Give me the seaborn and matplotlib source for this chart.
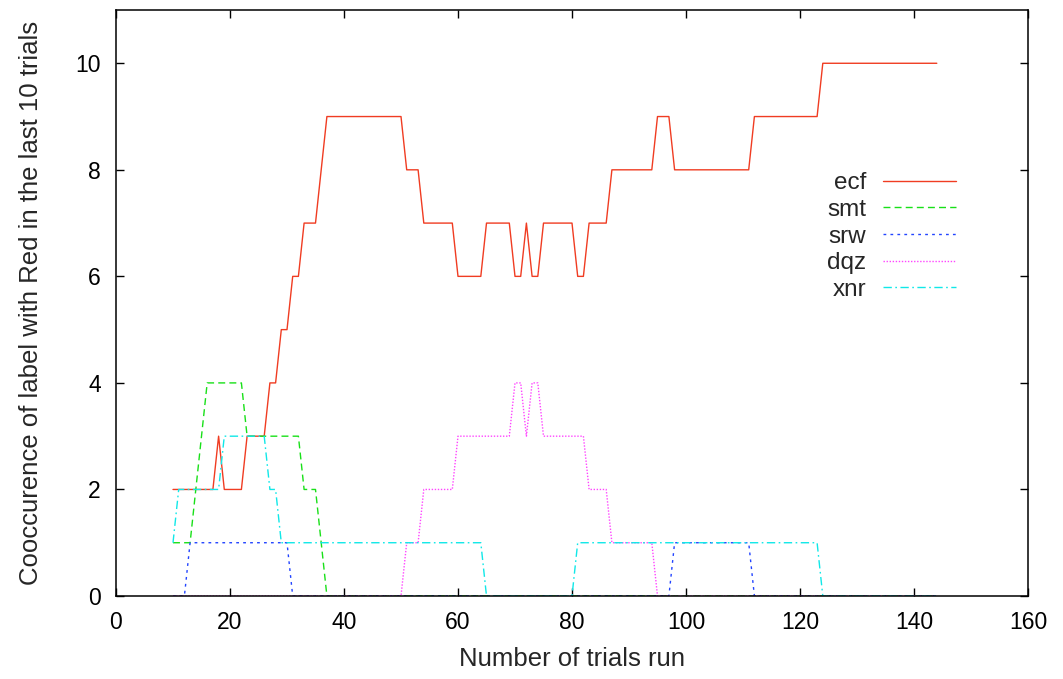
import numpy as np
import pandas as pd
import matplotlib
matplotlib.use("Agg")
import matplotlib.pyplot as plt
import seaborn as sns

# ---- data (trial number 10..144) ----
trials = list(range(10, 145))

ecf = [2, 2, 2, 2, 2, 2, 2, 2, 3, 2,      # 10-19
       2, 2, 2, 3, 3, 3, 3, 4, 4, 5,      # 20-29
       5, 6, 6, 7, 7, 7, 8, 9, 9, 9,      # 30-39
       9, 9, 9, 9, 9, 9, 9, 9, 9, 9,      # 40-49
       9, 8, 8, 8, 7, 7, 7, 7, 7, 7,      # 50-59
       6, 6, 6, 6, 6, 7, 7, 7, 7, 7,      # 60-69
       6, 6, 7, 6, 6, 7, 7, 7, 7, 7,      # 70-79
       7, 6, 6, 7, 7, 7, 7, 8, 8, 8,      # 80-89
       8, 8, 8, 8, 8, 9, 9, 9, 8, 8,      # 90-99
       8, 8, 8, 8, 8, 8, 8, 8, 8, 8,      # 100-109
       8, 8, 9, 9, 9, 9, 9, 9, 9, 9,      # 110-119
       9, 9, 9, 9, 10, 10, 10, 10, 10, 10,  # 120-129
       10, 10, 10, 10, 10, 10, 10, 10, 10, 10,  # 130-139
       10, 10, 10, 10, 10]                # 140-144

smt = [1, 1, 1, 1, 2, 3, 4, 4, 4, 4,
       4, 4, 4, 3, 3, 3, 3, 3, 3, 3,
       3, 3, 3, 2, 2, 2, 1, 0, 0, 0,
       0, 0, 0, 0, 0, 0, 0, 0, 0, 0,
       0, 0, 0, 0, 0, 0, 0, 0, 0, 0,
       0, 0, 0, 0, 0, 0, 0, 0, 0, 0,
       0, 0, 0, 0, 0, 0, 0, 0, 0, 0,
       0, 0, 0, 0, 0, 0, 0, 0, 0, 0,
       0, 0, 0, 0, 0, 0, 0, 0, 0, 0,
       0, 0, 0, 0, 0, 0, 0, 0, 0, 0,
       0, 0, 0, 0, 0, 0, 0, 0, 0, 0,
       0, 0, 0, 0, 0, 0, 0, 0, 0, 0,
       0, 0, 0, 0, 0, 0, 0, 0, 0, 0,
       0, 0, 0, 0, 0]

srw = [0, 0, 0, 1, 1, 1, 1, 1, 1, 1,
       1, 1, 1, 1, 1, 1, 1, 1, 1, 1,
       1, 0, 0, 0, 0, 0, 0, 0, 0, 0,
       0, 0, 0, 0, 0, 0, 0, 0, 0, 0,
       0, 0, 0, 0, 0, 0, 0, 0, 0, 0,
       0, 0, 0, 0, 0, 0, 0, 0, 0, 0,
       0, 0, 0, 0, 0, 0, 0, 0, 0, 0,
       0, 0, 0, 0, 0, 0, 0, 0, 0, 0,
       0, 0, 0, 0, 0, 0, 0, 0, 1, 1,
       1, 1, 1, 1, 1, 1, 1, 1, 1, 1,
       1, 1, 0, 0, 0, 0, 0, 0, 0, 0,
       0, 0, 0, 0, 0, 0, 0, 0, 0, 0,
       0, 0, 0, 0, 0, 0, 0, 0, 0, 0,
       0, 0, 0, 0, 0]

dqz = [0, 0, 0, 0, 0, 0, 0, 0, 0, 0,
       0, 0, 0, 0, 0, 0, 0, 0, 0, 0,
       0, 0, 0, 0, 0, 0, 0, 0, 0, 0,
       0, 0, 0, 0, 0, 0, 0, 0, 0, 0,
       0, 1, 1, 1, 2, 2, 2, 2, 2, 2,
       3, 3, 3, 3, 3, 3, 3, 3, 3, 3,
       4, 4, 3, 4, 4, 3, 3, 3, 3, 3,
       3, 3, 3, 2, 2, 2, 2, 1, 1, 1,
       1, 1, 1, 1, 1, 0, 0, 0, 0, 0,
       0, 0, 0, 0, 0, 0, 0, 0, 0, 0,
       0, 0, 0, 0, 0, 0, 0, 0, 0, 0,
       0, 0, 0, 0, 0, 0, 0, 0, 0, 0,
       0, 0, 0, 0, 0, 0, 0, 0, 0, 0,
       0, 0, 0, 0, 0]

xnr = [1, 2, 2, 2, 2, 2, 2, 2, 2, 3,
       3, 3, 3, 3, 3, 3, 3, 2, 2, 1,
       1, 1, 1, 1, 1, 1, 1, 1, 1, 1,
       1, 1, 1, 1, 1, 1, 1, 1, 1, 1,
       1, 1, 1, 1, 1, 1, 1, 1, 1, 1,
       1, 1, 1, 1, 1, 0, 0, 0, 0, 0,
       0, 0, 0, 0, 0, 0, 0, 0, 0, 0,
       0, 1, 1, 1, 1, 1, 1, 1, 1, 1,
       1, 1, 1, 1, 1, 1, 1, 1, 1, 1,
       1, 1, 1, 1, 1, 1, 1, 1, 1, 1,
       1, 1, 1, 1, 1, 1, 1, 1, 1, 1,
       1, 1, 1, 1, 0, 0, 0, 0, 0, 0,
       0, 0, 0, 0, 0, 0, 0, 0, 0, 0,
       0, 0, 0, 0, 0]

series_names = ["ecf", "smt", "srw", "dqz", "xnr"]
series_values = [ecf, smt, srw, dqz, xnr]

x_ticks = [0, 20, 40, 60, 80, 100, 120, 140, 160]
y_ticks = [0, 2, 4, 6, 8, 10]

# ---- style ----
sns.set_style("ticks")
plt.rcParams["font.family"] = ["Liberation Sans", "DejaVu Sans"]

FS_TICK = 16.5
FS_LABEL = 18.5
FS_LEG = 17.5

colors = {"ecf": "#f03c22", "smt": "#18e018", "srw": "#2244ff",
          "dqz": "#ff44ff", "xnr": "#10e8e8"}
dashes = {"ecf": "", "smt": (5, 3), "srw": (2, 3), "dqz": (1, 1.2),
          "xnr": (6, 2.5, 1.2, 2.5)}

rows = []
for name, vals in zip(series_names, series_values):
    for t, v in zip(trials, vals):
        rows.append({"trial": t, "value": v, "series": name})
df = pd.DataFrame(rows)

fig = plt.figure(figsize=(10.63, 6.79), dpi=100)
ax = fig.add_axes([116 / 1063, 1 - 596 / 679, (1028 - 116) / 1063, (596 - 10) / 679])

sns.lineplot(data=df, x="trial", y="value", hue="series", style="series",
             hue_order=series_names, style_order=series_names,
             palette=colors, dashes=dashes, linewidth=1.0, ax=ax,
             estimator=None, sort=False)

ax.set_xlim(0, 160)
ax.set_ylim(0, 11)
ax.set_xticks(x_ticks)
ax.set_yticks(y_ticks)
ax.tick_params(direction="in", length=6, width=1.0, top=True, right=True,
               labelsize=FS_TICK, colors="black")
ax.tick_params(axis="x", pad=11)
ax.tick_params(axis="y", pad=11)
for s in ax.spines.values():
    s.set_visible(True)
    s.set_linewidth(1.1)
    s.set_color("black")

ax.set_xlabel("Number of trials run", fontsize=FS_LABEL, labelpad=9)
ax.set_ylabel("Cooccurence of label with Red in the last 10 trials",
              fontsize=FS_LABEL, labelpad=23)

leg = ax.legend(loc="upper right", bbox_to_anchor=(0.921, 0.723),
                frameon=False, markerfirst=False, fontsize=FS_LEG,
                handlelength=3.0, handletextpad=0.7, labelspacing=0.19,
                borderpad=0, borderaxespad=0)
for line in leg.get_lines():
    line.set_linewidth(1.0)

fig.savefig("out.png", dpi=100)
